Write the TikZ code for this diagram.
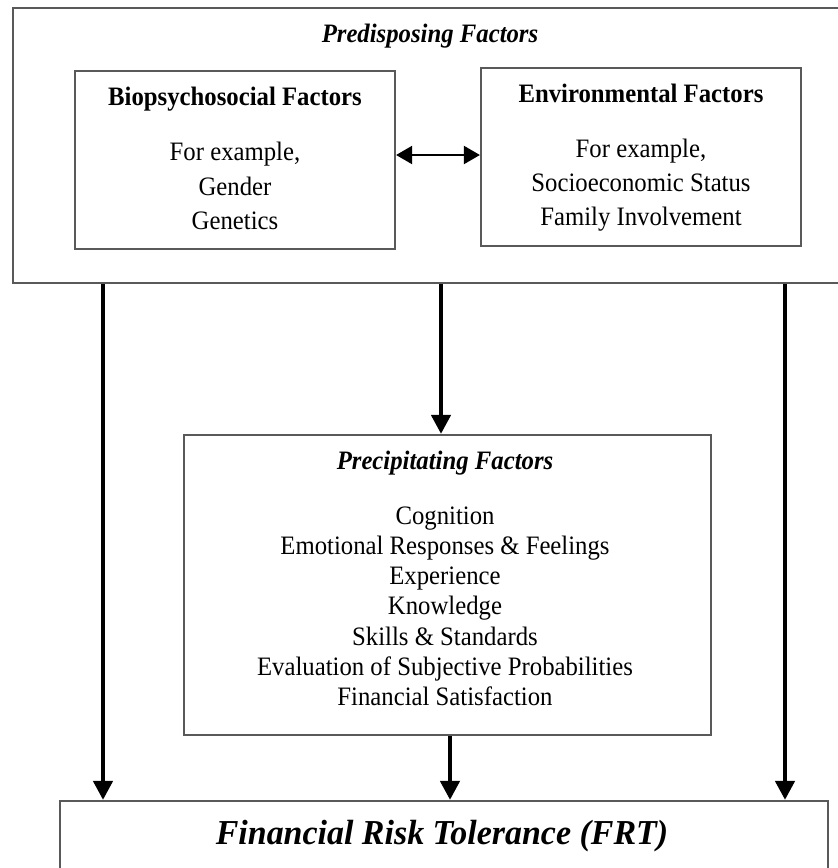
\documentclass[tikz,border=0pt]{standalone}
\usepackage{fontspec}
\setmainfont{Liberation Serif}[FakeStretch=0.93]
\newfontfamily\frtfont{Liberation Serif}[FakeStretch=0.97]
\usetikzlibrary{arrows.meta}
\newcommand\bodysize{\fontsize{13.3}{15}\selectfont}
\begin{document}
\begin{tikzpicture}[x=0.5pt,y=-0.5pt,
  box/.style={draw=black!65, line width=1.1pt, inner sep=0pt},
  txt/.style={anchor=base, inner sep=0pt, font=\bodysize},
  head/.style={txt, font=\bodysize\bfseries},
  ihead/.style={txt, font=\bodysize\bfseries\itshape},
  flow/.style={line width=2.2pt, -{Triangle[length=9.5pt,width=9.5pt]}},
  link/.style={line width=1pt, {Triangle[length=8pt,width=9pt]}-{Triangle[length=8pt,width=9pt]}}
]
\useasboundingbox (0,0) rectangle (838,868);
\clip (0,0) rectangle (838,868);

% boxes
\node[box, minimum width=416pt, minimum height=137.5pt] (pre) at (429,145.5) {};
\node[box, minimum width=160pt, minimum height=89pt] (bio) at (235,160) {};
\node[box, minimum width=160pt, minimum height=89pt] (env) at (641,157) {};
\node[box, minimum width=263.5pt, minimum height=150pt] (prc) at (447.5,585) {};
\node[box, minimum width=384pt, minimum height=70pt] (frt) at (444,871) {};

% texts
\node[ihead] (preT) at (430,42) {Predisposing Factors};
\node[head] (bioT) at (235,105) {Biopsychosocial Factors};
\node[txt] (bio1) at (235,160) {For example,};
\node[txt] (bio2) at (235,195) {Gender};
\node[txt] (bio3) at (235,229) {Genetics};
\node[head] (envT) at (641,102) {Environmental Factors};
\node[txt] (env1) at (641,157) {For example,};
\node[txt] (env2) at (641,191) {Socioeconomic Status};
\node[txt] (env3) at (641,225) {Family Involvement};
\node[ihead] (prcT) at (445,469) {Precipitating Factors};
\foreach \t [count=\i] in {Cognition,
    Emotional Responses \& Feelings,
    Experience,
    Knowledge,
    Skills \& Standards,
    Evaluation of Subjective Probabilities,
    Financial Satisfaction}
  \node[txt] (prc\i) at (445,{524+30.3*(\i-1)}) {\t};
\node[anchor=base, inner sep=0pt, font=\frtfont\fontsize{17.5}{20}\selectfont\bfseries\itshape] (frtT) at (442,844) {Financial Risk Tolerance (FRT)};

% connectors
\coordinate (xl) at (103,0);
\coordinate (xm) at (441,0);
\coordinate (xr) at (785,0);
\coordinate (xb) at (450,0);
\coordinate (yl) at (0,155);
\draw[link] (bio.east |- yl) -- (env.west |- yl);
\draw[flow] (pre.south -| xl) -- (frt.north -| xl);
\draw[flow] (pre.south -| xm) -- (prc.north -| xm);
\draw[flow] (pre.south -| xr) -- (frt.north -| xr);
\draw[flow] (prc.south -| xb) -- (frt.north -| xb);
\end{tikzpicture}
\end{document}
